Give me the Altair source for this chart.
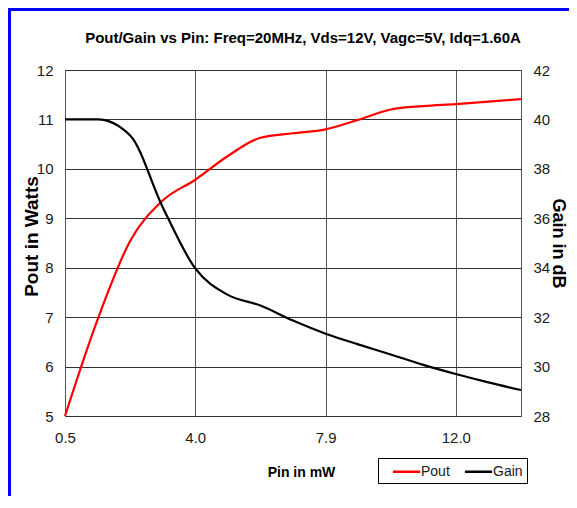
import altair as alt
import pandas as pd

# Data
pins = ["0.5", "1.4", "2.3", "3.1", "4.0", "5.0", "6.0", "6.9", "7.9", "8.9",
        "10.0", "11.0", "12.0", "13.0", "14.0"]
pout = [5.00, 6.95, 8.54, 9.36, 9.78, 10.26, 10.63, 10.72, 10.80, 10.99,
        11.20, 11.27, 11.31, 11.36, 11.41]
gain = [40.0, 40.0, 39.35, 36.45, 33.97, 32.9, 32.47, 31.86, 31.33, 30.9,
        30.49, 30.07, 29.70, 29.36, 29.05]
x_tick_labels = ["0.5", "4.0", "7.9", "12.0"]
pout_ticks = [5, 6, 7, 8, 9, 10, 11, 12]
gain_ticks = [28, 30, 32, 34, 36, 38, 40, 42]
series_names = ["Pout", "Gain"]
series_colors = ["#ff0000", "#000000"]
chart_title = "Pout/Gain vs Pin: Freq=20MHz, Vds=12V, Vagc=5V, Idq=1.60A"

FONT = "Liberation Sans, Arial, sans-serif"

df_pout = pd.DataFrame({"pin": pins, "value": pout, "series": "Pout"})
df_gain = pd.DataFrame({"pin": pins, "value": gain, "series": "Gain"})

x_enc = alt.X(
    "pin:O",
    sort=pins,
    scale=alt.Scale(type="point", padding=0),
    axis=alt.Axis(
        values=x_tick_labels, labelAngle=0, grid=True, gridColor="#555",
        gridWidth=1, ticks=False, domain=False, labelPadding=14,
        labelFontSize=15, labelFont=FONT, labelColor="#1a1a1a",
        title="Pin in mW", titleFont=FONT, titleFontSize=14,
        titleFontWeight="bold", titleX=236, titleY=56,
        titleBaseline="middle", titleAlign="center", titleColor="#000",
    ),
)

color_enc = alt.Color(
    "series:N",
    scale=alt.Scale(domain=series_names, range=series_colors),
    legend=alt.Legend(
        title=None, orient="none", legendX=313, legendY=388,
        direction="horizontal", strokeColor="#000", fillColor="#fff",
        padding=4, symbolType="M-1.7,0H1.7", symbolSize=256,
        symbolStrokeWidth=2.5, symbolOffset=15, labelFont=FONT,
        labelFontSize=14, labelColor="#1a1a1a", columnPadding=4,
        labelOffset=5, cornerRadius=0,
    ),
)

pout_line = alt.Chart(df_pout).mark_line(
    interpolate="monotone", strokeWidth=2.2
).encode(
    x=x_enc,
    y=alt.Y(
        "value:Q",
        scale=alt.Scale(domain=[5, 12], nice=False, zero=False),
        axis=alt.Axis(
            values=pout_ticks, grid=True, gridColor="#333", gridWidth=1,
            ticks=False, domain=False, labelPadding=12, labelFontSize=15,
            labelFont=FONT, labelColor="#1a1a1a",
            title="Pout in Watts", titleFont=FONT, titleFontSize=19,
            titleFontWeight="bold", titleAngle=270, titleX=-34, titleY=166,
            titleBaseline="middle", titleAlign="center", titleColor="#000",
        ),
    ),
    color=color_enc,
)

gain_line = alt.Chart(df_gain).mark_line(
    interpolate="monotone", strokeWidth=2.2
).encode(
    x=x_enc,
    y=alt.Y(
        "value:Q",
        scale=alt.Scale(domain=[28, 42], nice=False, zero=False),
        axis=alt.Axis(
            orient="right", values=gain_ticks, grid=False, ticks=False,
            domain=False, labelPadding=12, labelFontSize=15, labelFont=FONT,
            labelColor="#1a1a1a",
            title="Gain in dB", titleFont=FONT, titleFontSize=18,
            titleFontWeight="bold", titleAngle=90, titleX=36, titleY=173,
            titleBaseline="middle", titleAlign="center", titleColor="#000",
        ),
    ),
    color=color_enc,
)

one_row = pd.DataFrame({"k": [0]})
title_text = alt.Chart(one_row).mark_text(
    font=FONT, fontSize=15, fontWeight="bold", color="#000",
    align="center", baseline="middle",
).encode(
    x=alt.value(238), y=alt.value(-32), text=alt.value(chart_title)
)
frame_left = alt.Chart(one_row).mark_rule(color="#0000ff", strokeWidth=3).encode(
    x=alt.value(-55.5), y=alt.value(-62), y2=alt.value(426)
)
frame_top = alt.Chart(one_row).mark_rule(color="#0000ff", strokeWidth=3).encode(
    x=alt.value(-57), x2=alt.value(504), y=alt.value(-60.5)
)

chart = alt.layer(
    pout_line, gain_line, title_text, frame_left, frame_top
).resolve_scale(
    y="independent"
).properties(
    width=456,
    height=346,
    autosize=alt.AutoSizeParams(type="none"),
    padding={"left": 57, "top": 62, "right": 48, "bottom": 80},
    background="#ffffff",
).configure_view(
    stroke="#555", strokeWidth=1
)

chart.save("out.html", embed_options={"renderer": "svg", "actions": False})
